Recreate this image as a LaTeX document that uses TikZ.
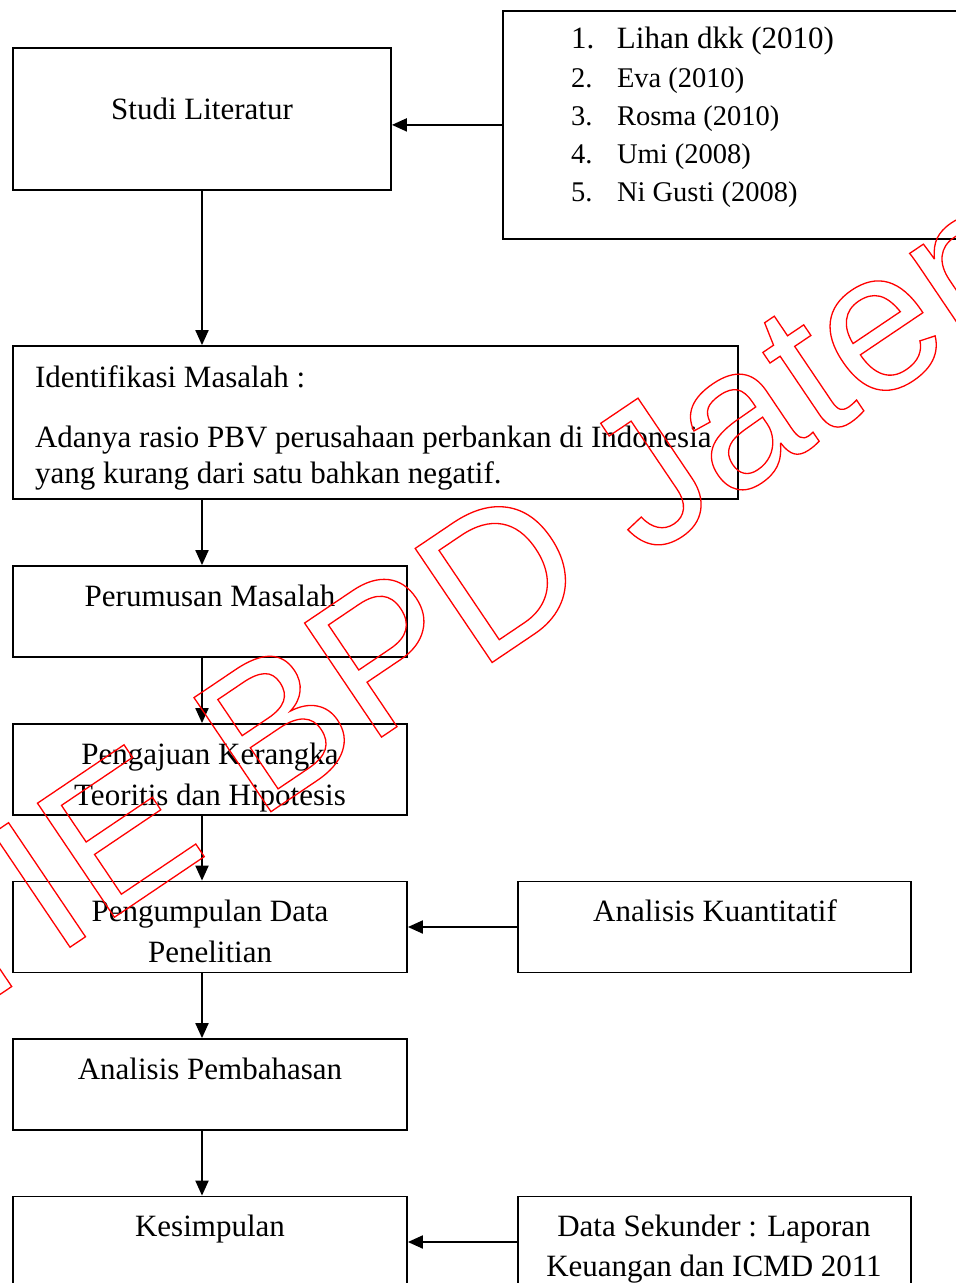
\documentclass[tikz,border=0pt]{standalone}
\usepackage{fontspec}
\setmainfont{Liberation Serif}
\newfontfamily\wmfont{Liberation Sans}
\usetikzlibrary{positioning,calc,arrows.meta}
\tikzset{>={Triangle[length=15pt,width=13pt]}}
\tikzset{box/.style={draw,line width=1.8pt,inner sep=0pt,minimum width=394pt,minimum height=91pt},
  txt/.style={inner sep=0pt,anchor=north,align=center,font=\fontsize{31}{41}\selectfont},
  item/.style={inner sep=0pt,anchor=base west,font=\fontsize{28.5}{28.5}\selectfont}}
\newcommand{\outlinetext}[1]{\special{pdf:literal direct 1 Tr 1.3 w}#1\special{pdf:literal direct 0 Tr}}
\newcommand{\num}[1]{\makebox[46pt][l]{#1}}

\begin{document}
\begin{tikzpicture}[x=1pt,y=-1pt,line width=2pt]
\path[use as bounding box,clip] (0,0) rectangle (956,1283);
% kotak
\node[box,minimum width=378pt,minimum height=142pt] (studi) at (202,119) {};
\node[box,minimum width=480pt,minimum height=228pt,anchor=north west] (refs) at (502,10) {};
\node[box,minimum width=725pt,minimum height=153pt] (ident) at (375.5,422.5) {};
\node[box] (rumus) at (210,611.5) {};
\node[box] (aju) at (210,769.5) {};
\node[box] (kumpul) at (210,927) {};
\node[box,minimum width=393pt] (kuanti) at (714.5,927) {};
\node[box] (bahas) at (210,1084.5) {};
\node[box] (simpul) at (210,1242) {};
\node[box,minimum width=393pt] (sekunder) at (714.5,1242) {};
% teks
\node[txt] (studiT) at (202,97) {Studi Literatur};
\node[item,font=\fontsize{31}{31}\selectfont] (ref1) at (570,48.5) {\num{1.}Lihan dkk (2010)};
\node[item] (ref2) at (570,87.3) {\num{2.}Eva (2010)};
\node[item] (ref3) at (570,125.2) {\num{3.}Rosma (2010)};
\node[item] (ref4) at (570,163.3) {\num{4.}Umi (2008)};
\node[item] (ref5) at (570,201.2) {\num{5.}Ni Gusti (2008)};
\node[txt,anchor=north west,align=left,font=\fontsize{31}{36}\selectfont] (identT) at (34,365)
  {Identifikasi Masalah :\\[24pt]
   Adanya rasio PBV perusahaan perbankan di Indonesia\\
   yang kurang dari satu bahkan negatif.};
\node[txt] (rumusT) at (210,584) {Perumusan Masalah};
\node[txt] (ajuT) at (210,742) {Pengajuan Kerangka\\Teoritis dan Hipotesis};
\node[txt] (kumpulT) at (210,899) {Pengumpulan Data\\Penelitian};
\node[txt] (kuantiT) at (715,899) {Analisis Kuantitatif};
\node[txt] (bahasT) at (210,1057) {Analisis Pembahasan};
\node[txt] (simpulT) at (210,1214) {Kesimpulan};
\node[txt,font=\fontsize{31}{40}\selectfont] (sekunderT) at (714,1214) {Data Sekunder : Laporan\\Keuangan dan ICMD 2011};
% panah
\draw[->] (refs.west) -- (refs.west -| studi.east);
\draw[->] (studi.south) -- (studi.south |- ident.north);
\draw[->] (studi.south |- ident.south) -- (studi.south |- rumus.north);
\draw[->] (studi.south |- rumus.south) -- (studi.south |- aju.north);
\draw[->] (studi.south |- aju.south) -- (studi.south |- kumpul.north);
\draw[->] (studi.south |- kumpul.south) -- (studi.south |- bahas.north);
\draw[->] (studi.south |- bahas.south) -- (studi.south |- simpul.north);
\draw[->] (kuanti.west) -- (kuanti.west -| kumpul.east);
\draw[->] (sekunder.west) -- (sekunder.west -| simpul.east);
% watermark
\node[anchor=base west,inner sep=0pt,rotate=34,text=red,font=\wmfont\fontsize{200}{200}\selectfont] (wmark) at (-158,1101) {\outlinetext{STIE BPD Jateng}};
\end{tikzpicture}
\end{document}
